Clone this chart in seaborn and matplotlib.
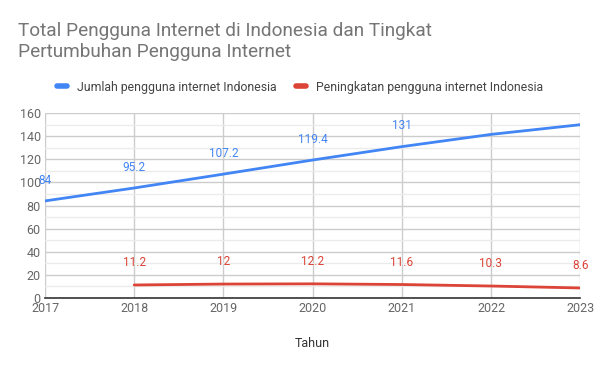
import numpy as np
import pandas as pd
import seaborn as sns
import matplotlib.pyplot as plt
from matplotlib.ticker import MultipleLocator

# Data
years = [2017, 2018, 2019, 2020, 2021, 2022, 2023]
jumlah = [84, 95.2, 107.2, 119.4, 131, 141.6, 150]
peningkatan = [np.nan, 11.2, 12, 12.2, 11.6, 10.3, 8.6]
jumlah_labels = ["84", "95.2", "107.2", "119.4", "131", None, None]
peningkatan_labels = [None, "11.2", "12", "12.2", "11.6", "10.3", "8.6"]

blue = "#4285F4"
red = "#DB4437"

df = pd.DataFrame({"Tahun": years, "jumlah": jumlah, "peningkatan": peningkatan})

sns.set_style("white")
plt.rcParams["font.family"] = ["Roboto", "DejaVu Sans"]

fig = plt.figure(figsize=(6, 3.71), dpi=100)
ax = fig.add_axes([0.075, 0.197, 0.892, 0.498])

sns.lineplot(data=df, x="Tahun", y="jumlah", color=blue, linewidth=2,
             ax=ax, label="Jumlah pengguna internet Indonesia")
sns.lineplot(data=df.dropna(), x="Tahun", y="peningkatan", color=red, linewidth=2,
             ax=ax, label="Peningkatan pengguna internet Indonesia")

# data labels
for x, y, t in zip(years, jumlah, jumlah_labels):
    if t:
        ax.annotate(t, (x, y), xytext=(0, 15), textcoords="offset points",
                    ha="center", va="center", color=blue, fontsize=8.5)
for x, y, t in zip(years, peningkatan, peningkatan_labels):
    if t:
        ax.annotate(t, (x, y), xytext=(0, 16), textcoords="offset points",
                    ha="center", va="center", color=red, fontsize=8.5)

ax.set_xlim(2017, 2023)
ax.set_ylim(0, 160)
ax.set_xticks(years)
ax.yaxis.set_major_locator(MultipleLocator(20))
ax.yaxis.set_minor_locator(MultipleLocator(10))
ax.grid(which="major", color="#cccccc", linewidth=1)
ax.grid(which="minor", axis="y", color="#ebebeb", linewidth=1)
ax.set_axisbelow(True)
ax.tick_params(which="both", length=0, labelsize=9, colors="#666666", pad=3)
for s in ["top", "right", "left"]:
    ax.spines[s].set_visible(False)
ax.spines["bottom"].set_color("#333333")
ax.spines["bottom"].set_linewidth(1.2)

ax.set_xlabel("Tahun", fontsize=9, color="#333333", labelpad=16)
ax.set_ylabel("")

ax.legend_.remove()
handles, labels = ax.get_legend_handles_labels()
leg = fig.legend(handles, labels, loc="center", bbox_to_anchor=(0.5, 0.765),
                 ncol=2, frameon=False, fontsize=8.8, handlelength=0.8,
                 handletextpad=0.8, columnspacing=1.6)
for h in leg.get_lines():
    h.set_linewidth(4)
for t in leg.get_texts():
    t.set_color("#444444")

fig.text(0.03, 0.94, "Total Pengguna Internet di Indonesia dan Tingkat\nPertumbuhan Pengguna Internet",
         ha="left", va="top", fontsize=13.7, color="#757575", linespacing=1.2)

fig.savefig("out.png", dpi=100)
